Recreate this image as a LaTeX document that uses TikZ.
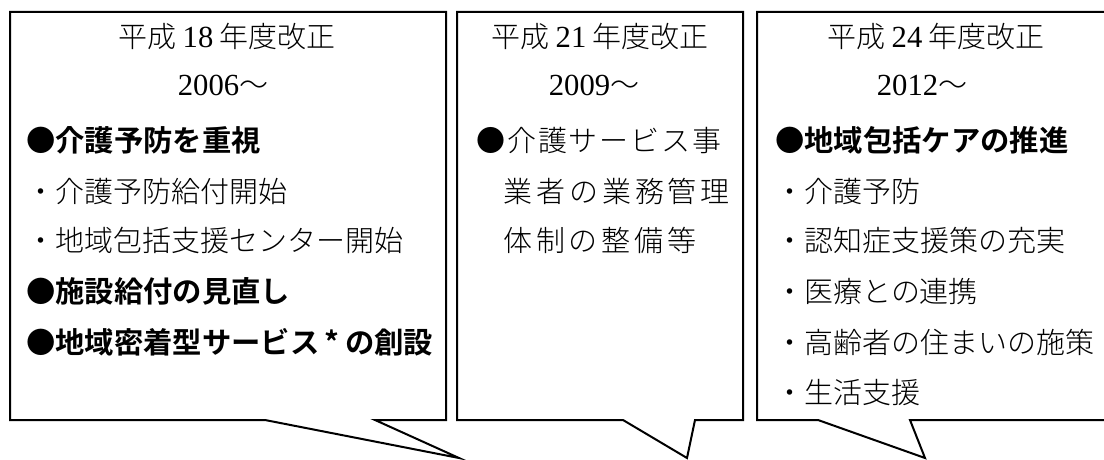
\documentclass[tikz,border=0pt]{standalone}
\usepackage{fontspec}
\setmainfont{Liberation Serif}
\newfontfamily\jp{Noto Sans CJK JP}[UprightFont=* Light, BoldFont=* Bold]
\newcommand{\dg}[1]{{\rmfamily\fontsize{23pt}{26pt}\selectfont #1}}
\begin{document}
\begin{tikzpicture}[x=0.75pt,y=-0.75pt,
  callout/.style={draw=black,line width=1.5pt,line join=miter,fill=white},
  txt/.style={inner sep=0pt,text height=0.88em,text depth=0.12em,
    font=\jp\fontsize{21.75pt}{26pt}\selectfont},
  hd/.style={txt,anchor=center},
  ln/.style={txt,anchor=west},
  bd/.style={txt,anchor=west,font=\jp\bfseries\fontsize{22pt}{26pt}\selectfont}]
\useasboundingbox (0,0) rectangle (1104,460);
\clip (0,0) rectangle (1104,460);
% callout shapes
\draw[callout] (10,12) -- (446,12) -- (446,420) -- (375,420) -- (459,458)
  -- (265,420) -- (10,420) -- cycle;
\draw[callout] (457,12) -- (743,12) -- (743,420) -- (695,420) -- (687,458)
  -- (623,420) -- (457,420) -- cycle;
\draw[callout] (757,12) -- (1115,12) -- (1115,420) -- (910,420) -- (925,458)
  -- (818,420) -- (757,420) -- cycle;
% box 1
\node[hd] (t1) at (227,42) {平成 \dg{18} 年度改正};
\node[hd] (y1) at (223,90) {\dg{2006}～};
\node[bd] (a1) at (26,146) {●介護予防を重視};
\node[ln] (a2) at (26,197) {・介護予防給付開始};
\node[ln] (a3) at (26,246) {・地域包括支援センター開始};
\node[bd] (a4) at (26,297) {●施設給付の見直し};
\node[bd] (a5) at (26,348) {●地域密着型サービス\hspace{4pt}*\hspace{4pt}の創設};
% box 2
\node[hd] (t2) at (600,42) {平成 \dg{21} 年度改正};
\node[hd] (y2) at (594,90) {\dg{2009}～};
\node[ln] (b1) at (476,146) {\makebox[184pt][l]{●\hfill 介\hfill 護\hfill サ\hfill ー\hfill ビ\hfill ス\hfill 事}};
\node[ln] (b2) at (503,197) {\makebox[170pt][l]{業\hfill 者\hfill の\hfill 業\hfill 務\hfill 管\hfill 理}};
\node[ln] (b3) at (503,246) {\makebox[145pt][l]{体\hfill 制\hfill の\hfill 整\hfill 備\hfill 等}};
% box 3
\node[hd] (t3) at (936,42) {平成 \dg{24} 年度改正};
\node[hd] (y3) at (922,90) {\dg{2012}～};
\node[bd] (c1) at (775,146) {●地域包括ケアの推進};
\node[ln] (c2) at (775,197) {・介護予防};
\node[ln] (c3) at (775,246) {・認知症支援策の充実};
\node[ln] (c4) at (775,297) {・医療との連携};
\node[ln] (c5) at (775,348) {・高齢者の住まいの施策};
\node[ln] (c6) at (775,398) {・生活支援};
\end{tikzpicture}
\end{document}
